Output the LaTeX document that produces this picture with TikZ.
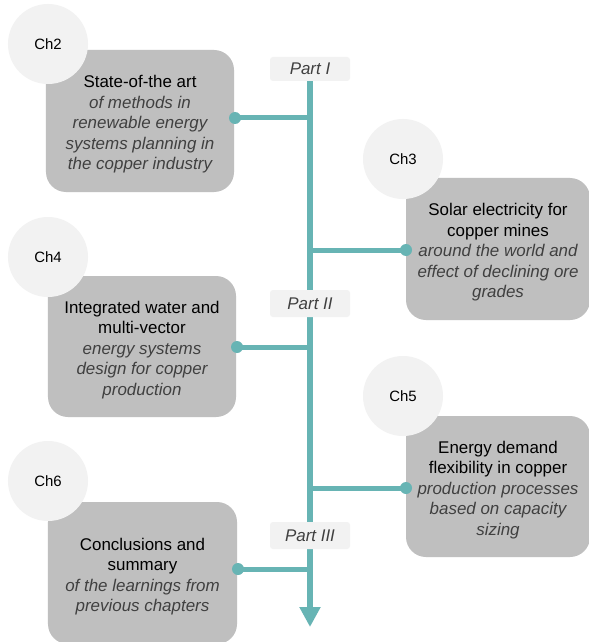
\documentclass[tikz,border=0pt]{standalone}
\usepackage{fontspec}
\setmainfont{Liberation Sans}
\usetikzlibrary{arrows.meta,backgrounds}

\definecolor{spinecol}{HTML}{67B4B4}
\definecolor{boxgrey}{HTML}{BFBFBF}
\definecolor{discgrey}{HTML}{F2F2F2}
\definecolor{subgrey}{HTML}{404040}

\newcommand\mainsize{\fontsize{17}{20.6}\selectfont}
\newcommand\chsize{\fontsize{15}{18}\selectfont}
\newcommand\subtxt[1]{{\itshape\color{subgrey}#1}}
% taller first line, so the text block sits a little lower in its box
\newcommand\topstrut{\rule{0pt}{19.3bp}}

\tikzset{
  chapbox/.style={fill=boxgrey, rounded corners=20bp, minimum width=188bp,
    minimum height=142bp, align=center, inner sep=0pt, font=\mainsize},
  chapdisc/.style={circle, fill=discgrey, minimum size=80bp, inner sep=0pt, font=\chsize},
  partlabel/.style={fill=discgrey, rounded corners=3bp, minimum width=80bp,
    minimum height=26bp, inner sep=0pt, font=\mainsize\itshape, text=subgrey},
  dotend/.style={circle, fill=spinecol, minimum size=12bp, inner sep=0pt},
  branch/.style={draw=spinecol, line width=5bp},
  spine/.style={draw=spinecol, line width=6bp}
}

\begin{document}
\begin{tikzpicture}[x=1bp,y=-1bp]
  \useasboundingbox (0,0) rectangle (589,642);

  % chapter boxes
  \node[chapbox] (b2) at (140,121)
    {\topstrut State-of-the art\\ \subtxt{of methods in}\\ \subtxt{renewable energy}\\
     \subtxt{systems planning in}\\ \subtxt{the copper industry}};
  \node[chapbox, minimum width=184bp] (b3) at (498,249)
    {\topstrut Solar electricity for\\ copper mines\\ \subtxt{around the world and}\\
     \subtxt{effect of declining ore}\\ \subtxt{grades}};
  \node[chapbox, minimum height=141bp] (b4) at (142,346.5)
    {\topstrut Integrated water and\\ multi-vector\\ \subtxt{energy systems}\\
     \subtxt{design for copper}\\ \subtxt{production}};
  \node[chapbox, minimum width=184bp, minimum height=141bp] (b5) at (498,486.5)
    {\topstrut Energy demand\\ flexibility in copper\\ \subtxt{production processes}\\
     \subtxt{based on capacity}\\ \subtxt{sizing}};
  \node[chapbox, minimum width=189bp] (b6) at (142.5,573)
    {\topstrut Conclusions and\\ summary\\ \subtxt{of the learnings from}\\
     \subtxt{previous chapters}};

  % chapter discs
  \node[chapdisc] (c2) at (48,44)  {Ch2};
  \node[chapdisc] (c3) at (403,159) {Ch3};
  \node[chapdisc] (c4) at (48,257) {Ch4};
  \node[chapdisc] (c5) at (403,396) {Ch5};
  \node[chapdisc] (c6) at (48,481) {Ch6};

  % part labels on the spine
  \node[partlabel, minimum height=24bp] (p1) at (310,69) {Part I};
  \node[partlabel, minimum height=27bp] (p2) at (310,303.5) {Part II};
  \node[partlabel, minimum height=27bp] (p3) at (310,535.5) {Part III};

  % branch end dots
  \node[dotend] (d2) at (235,118) {};
  \node[dotend] (d3) at (406,250) {};
  \node[dotend] (d4) at (237,347) {};
  \node[dotend] (d5) at (406,488) {};
  \node[dotend] (d6) at (238,569) {};

  % junctions on the spine and its end
  \coordinate (j2) at (313,118);
  \coordinate (j3) at (307,250);
  \coordinate (j4) at (313,347);
  \coordinate (j5) at (307,488);
  \coordinate (j6) at (313,569);
  \coordinate (tip) at (310,627);

  \begin{pgfonlayer}{background}
    \fill[white] (0,0) rectangle (589,642);
    \draw[spine, -{Triangle[length=20bp,width=20bp]}] (p1.center) -- (tip);
    \draw[branch] (d2.center) -- (j2);
    \draw[branch] (j3) -- (d3.center);
    \draw[branch] (d4.center) -- (j4);
    \draw[branch] (j5) -- (d5.center);
    \draw[branch] (d6.center) -- (j6);
  \end{pgfonlayer}
\end{tikzpicture}
\end{document}
